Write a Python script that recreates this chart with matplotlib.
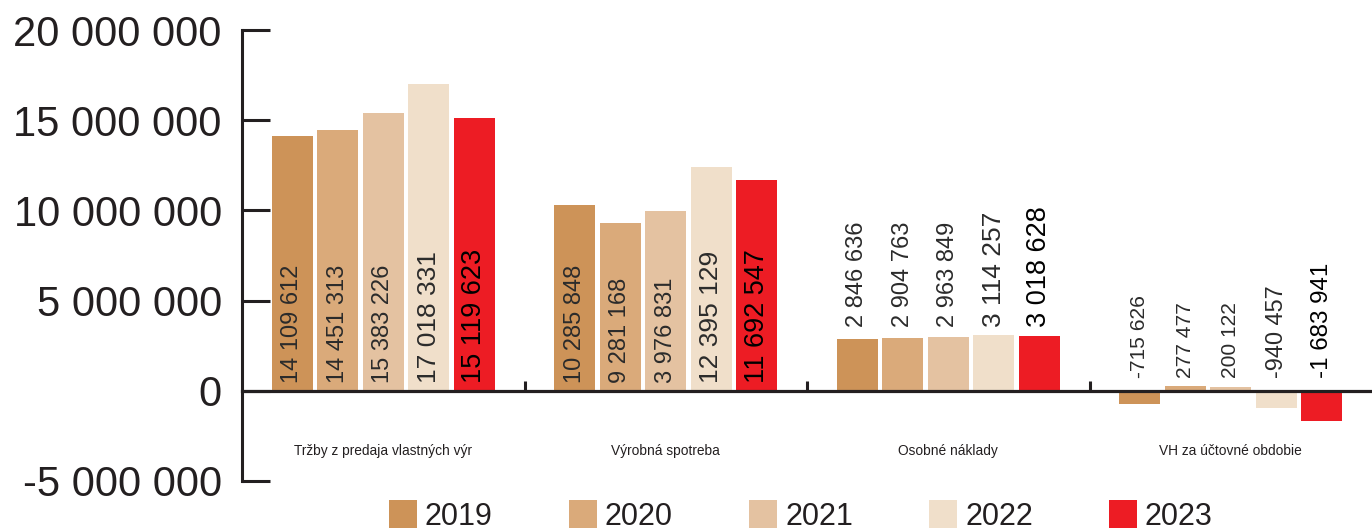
import numpy as np
import matplotlib
matplotlib.use("Agg")
import matplotlib.pyplot as plt
from matplotlib.patches import Patch

plt.rcParams['font.family'] = ['Liberation Sans', 'DejaVu Sans']

# data
categories = ["Tržby z predaja vlastných výr", "Výrobná spotreba", "Osobné náklady", "VH za účtovné obdobie"]
years = ["2019", "2020", "2021", "2022", "2023"]
v2019 = [14109612, 10285848, 2846636, -715626]
v2020 = [14451313, 9281168, 2904763, 277477]
v2021 = [15383226, 9976831, 2963849, 200122]
v2022 = [17018331, 12395129, 3114257, -940457]
v2023 = [15119623, 11692547, 3018628, -1683941]
series = [v2019, v2020, v2021, v2022, v2023]
# the source prints a different number on this one bar than its height
label_overrides = {(2, 1): "3 976 831"}
yticks = [-5000000, 0, 5000000, 10000000, 15000000, 20000000]

colors = ["#cd9358", "#daaa7a", "#e4c2a1", "#f0dfca", "#ed1c24"]
label_colors = ["#2b2b2b", "#2b2b2b", "#2b2b2b", "#2b2b2b", "#000000"]
label_sizes = [17, 17, 17, 19, 19.5]
dark = "#231f20"


def fmt(v):
    return f"{v:,.0f}".replace(",", " ")


fig = plt.figure(figsize=(13.72, 5.29), dpi=100)
ax = fig.add_axes([242 / 1372, 48 / 529, 1 - 242 / 1372, (481 - 30) / 529])

x = np.arange(len(categories))
step = 0.161
width = 0.144

for i, vals in enumerate(series):
    ax.bar(x + (i - 2) * step, vals, width=width, color=colors[i], zorder=1)

# value labels: inside the base for the big groups, above the group otherwise
for j in range(len(categories)):
    group = [s[j] for s in series]
    inside = max(group) > 5000000
    base = 0 if inside else max(0, max(group))
    for i, vals in enumerate(series):
        txt = label_overrides.get((i, j), fmt(vals[j]))
        size = label_sizes[i] if j < 3 else label_sizes[i] * 0.89
        ax.annotate(txt, (x[j] + (i - 2) * step, base), xytext=(0, 5.5),
                    textcoords="offset points", rotation=90, ha="center", va="bottom",
                    fontsize=size, color=label_colors[i], zorder=3)

ax.set_xlim(-0.5, len(categories) - 0.5)
ax.set_ylim(-5000000, 20000000)

for s in ["top", "right"]:
    ax.spines[s].set_visible(False)
ax.spines["bottom"].set_position(("data", 0))
ax.spines["bottom"].set_linewidth(2.3)
ax.spines["bottom"].set_color(dark)
ax.spines["left"].set_linewidth(2.2)
ax.spines["left"].set_color(dark)

ax.set_yticks(yticks, [fmt(v) for v in yticks])
ax.tick_params(axis="y", direction="in", length=20, width=2.2, color=dark,
               labelsize=30, labelcolor=dark, pad=14.5)

# separators between groups (major) and category names (minor)
ax.set_xticks(x[:-1] + 0.5, [""] * (len(categories) - 1))
ax.tick_params(axis="x", which="major", direction="in", length=7.5, width=2.2, color=dark)
ax.set_xticks(x, categories, minor=True)
ax.tick_params(axis="x", which="minor", length=0, pad=38, labelsize=9.9, labelcolor=dark)

handles = [Patch(facecolor=c, edgecolor="none") for c in colors]
fig.legend(handles, years, loc="center", bbox_to_anchor=(801 / 1372, 13 / 529), ncol=5,
           frameon=False, fontsize=22, handlelength=0.92, handleheight=1.0,
           handletextpad=0.25, columnspacing=2.5, labelcolor=dark)

fig.savefig("out.png", dpi=100)
